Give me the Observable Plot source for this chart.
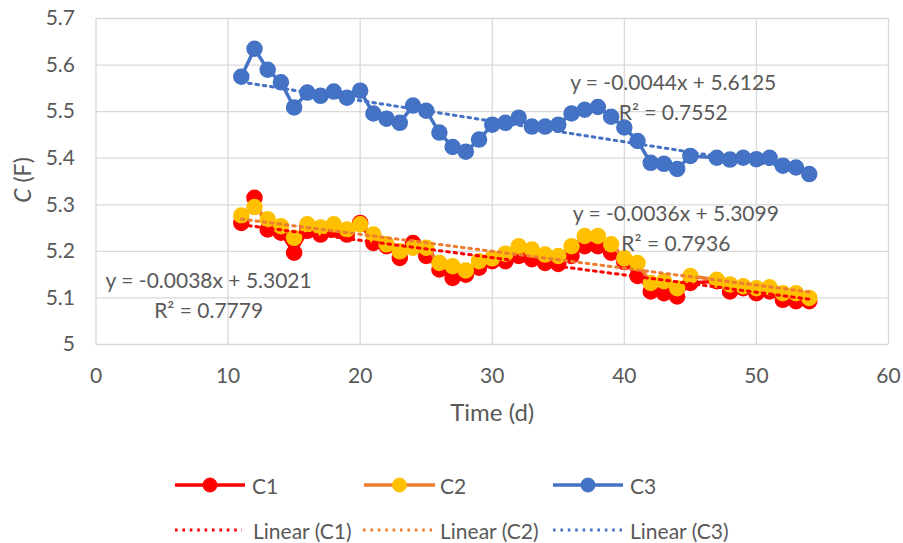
<!DOCTYPE html>
<html>
<head>
<meta charset="utf-8">
<script src="https://cdn.jsdelivr.net/npm/d3@7"></script>
<script src="https://cdn.jsdelivr.net/npm/@observablehq/plot@0.6"></script>
<style>
  html, body { margin: 0; padding: 0; background: #fff; }
  #wrap { width: 903px; height: 543px; position: relative; font-family: Lato, "Noto Sans", sans-serif; color: #595959; }
</style>
</head>
<body>
<div id="wrap"></div>
<script>
// ---- data ----
const days = [11,12,13,14,15,16,17,18,19,20,21,22,23,24,25,26,27,28,29,30,31,32,33,34,35,36,37,38,39,40,41,42,43,44,45,47,48,49,50,51,52,53,54];
const c1 = [5.261,5.315,5.247,5.240,5.197,5.244,5.236,5.247,5.236,5.261,5.218,5.211,5.186,5.218,5.190,5.161,5.143,5.150,5.165,5.179,5.179,5.190,5.183,5.175,5.173,5.190,5.211,5.211,5.197,5.177,5.147,5.114,5.110,5.103,5.132,5.136,5.114,5.121,5.110,5.114,5.096,5.093,5.093];
const c2 = [5.277,5.295,5.269,5.254,5.229,5.258,5.251,5.258,5.247,5.258,5.236,5.215,5.200,5.208,5.208,5.175,5.168,5.159,5.179,5.185,5.195,5.211,5.204,5.193,5.190,5.211,5.233,5.233,5.215,5.185,5.175,5.132,5.136,5.121,5.147,5.139,5.129,5.125,5.121,5.123,5.110,5.110,5.100];
const c3 = [5.575,5.635,5.590,5.563,5.509,5.541,5.534,5.543,5.530,5.545,5.496,5.485,5.476,5.513,5.502,5.455,5.424,5.414,5.440,5.472,5.476,5.487,5.468,5.468,5.472,5.496,5.504,5.510,5.489,5.466,5.437,5.390,5.388,5.377,5.405,5.401,5.397,5.401,5.398,5.401,5.384,5.380,5.366];
const seriesNames = ["C1","C2","C3"];
const xTicks = [0,10,20,30,40,50,60];
const yTicks = [5,5.1,5.2,5.3,5.4,5.5,5.6,5.7];
const eqTexts = ["y = -0.0038x + 5.3021","R² = 0.7779","y = -0.0036x + 5.3099","R² = 0.7936","y = -0.0044x + 5.6125","R² = 0.7552"];
// annotation anchors in data coordinates
const eqX = [8.53, 8.53, 43.9, 43.9, 43.7, 43.7];
const eqY = [5.135, 5.071, 5.280, 5.215, 5.560, 5.496];

const rows = (vals) => days.map((d, i) => ({day: d, value: vals[i]}));
const r1 = rows(c1), r2 = rows(c2), r3 = rows(c3);
const eqs = eqTexts.map((t, i) => ({text: t, x: eqX[i], y: eqY[i]}));

const RED = "#FF0000", ORANGE = "#ED7D31", GOLD = "#FFC000", BLUE = "#4472C4", GRID = "#d9d9d9";
const lw = 3.5, mr = 7.5;
const dash = "2.6 4.8";

const svg = Plot.plot({
  width: 903,
  height: 440,
  marginTop: 18,
  marginBottom: 96,
  marginLeft: 95.5,
  marginRight: 15,
  style: {fontFamily: "Lato, 'Noto Sans', sans-serif", color: "#595959", background: "#fff"},
  x: {domain: [0, 60]},
  y: {domain: [5, 5.7]},
  marks: [
    Plot.gridY(yTicks, {stroke: GRID, strokeOpacity: 1, strokeWidth: 1.3}),
    Plot.gridX(xTicks, {stroke: GRID, strokeOpacity: 1, strokeWidth: 1.3}),
    Plot.axisX(xTicks, {tickSize: 0, tickPadding: 24, fontSize: 21, label: null}),
    Plot.axisY(yTicks, {tickSize: 0, tickPadding: 21, fontSize: 21, label: null, tickFormat: d3.format("~g")}),
    Plot.lineY(r1, {x: "day", y: "value", stroke: RED, strokeWidth: lw}),
    Plot.dot(r1, {x: "day", y: "value", r: mr, fill: RED, stroke: RED}),
    Plot.lineY(r2, {x: "day", y: "value", stroke: ORANGE, strokeWidth: lw}),
    Plot.dot(r2, {x: "day", y: "value", r: mr, fill: GOLD, stroke: GOLD}),
    Plot.lineY(r3, {x: "day", y: "value", stroke: BLUE, strokeWidth: lw}),
    Plot.dot(r3, {x: "day", y: "value", r: mr, fill: BLUE, stroke: BLUE}),
    Plot.linearRegressionY(r1, {x: "day", y: "value", stroke: RED, strokeWidth: 3, strokeDasharray: dash, ci: 0}),
    Plot.linearRegressionY(r2, {x: "day", y: "value", stroke: ORANGE, strokeWidth: 3, strokeDasharray: dash, ci: 0}),
    Plot.linearRegressionY(r3, {x: "day", y: "value", stroke: BLUE, strokeWidth: 3, strokeDasharray: dash, ci: 0}),
    Plot.text(eqs, {x: "x", y: "y", text: "text", fontSize: 21, fill: "#595959"}),
    Plot.text(["Time (d)"], {frameAnchor: "bottom", lineAnchor: "middle", dy: 69, fontSize: 24, fill: "#595959"})
  ]
});

// y-axis title with italic C
const ylab = d3.select(svg).append("text")
  .attr("transform", "translate(22,180) rotate(-90)")
  .attr("text-anchor", "middle")
  .attr("dominant-baseline", "central")
  .attr("fill", "#595959")
  .attr("font-size", 23);
ylab.append("tspan").attr("font-style", "italic").text("C");
ylab.append("tspan").text(" (F)");

const wrap = document.getElementById("wrap");
svg.style.display = "block";
wrap.appendChild(svg);

// ---- legend (below the plot) ----
const legendItems = [
  {label: "C1", line: RED, marker: RED, dotted: false, x0: 175, x1: 245, tx: 252, row: 0},
  {label: "C2", line: ORANGE, marker: GOLD, dotted: false, x0: 364, x1: 435, tx: 440, row: 0},
  {label: "C3", line: BLUE, marker: BLUE, dotted: false, x0: 553, x1: 623, tx: 630, row: 0},
  {label: "Linear (C1)", line: RED, dotted: true, x0: 175, x1: 242, tx: 253, row: 1},
  {label: "Linear (C2)", line: ORANGE, dotted: true, x0: 363, x1: 432, tx: 440, row: 1},
  {label: "Linear (C3)", line: BLUE, dotted: true, x0: 553, x1: 622, tx: 630, row: 1}
];
const rowY = [45, 90];
const leg = d3.select(wrap).append("svg")
  .attr("width", 903).attr("height", 103)
  .style("display", "block")
  .style("font-family", "Lato, 'Noto Sans', sans-serif");
for (const it of legendItems) {
  const y = rowY[it.row];
  leg.append("line").attr("x1", it.x0).attr("x2", it.x1).attr("y1", y).attr("y2", y)
    .attr("stroke", it.line).attr("stroke-width", it.dotted ? 3 : lw)
    .attr("stroke-dasharray", it.dotted ? dash : null);
  if (!it.dotted) {
    leg.append("circle").attr("cx", (it.x0 + it.x1) / 2).attr("cy", y).attr("r", 7)
      .attr("fill", it.marker).attr("stroke", it.marker);
  }
  leg.append("text").attr("x", it.tx).attr("y", y).attr("dominant-baseline", "central")
    .attr("fill", "#595959").attr("font-size", 21).text(it.label);
}
</script>
</body>
</html>
